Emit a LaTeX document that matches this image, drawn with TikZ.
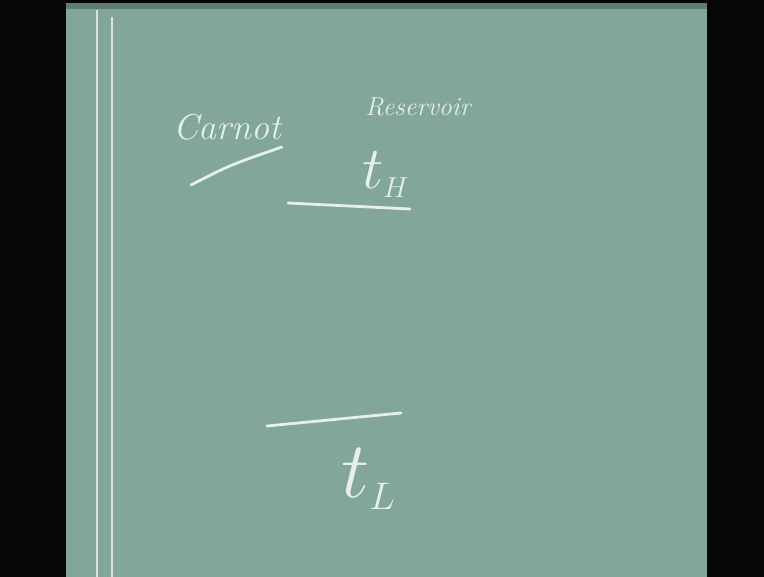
\documentclass[tikz,border=0pt]{standalone}
\usepackage{fontspec}
\definecolor{board}{RGB}{130,166,151}
\definecolor{chalk}{RGB}{230,240,234}
\definecolor{frame}{RGB}{6,6,8}
\tikzset{
  chalkline/.style={draw=chalk, line width=2.8pt, line cap=round},
  edgeline/.style={draw=chalk!85!board, line width=2pt},
  chalktext/.style={text=chalk, inner sep=0pt, font=\itshape}
}
\begin{document}
\begin{tikzpicture}[x=1pt,y=-1pt]
\useasboundingbox (0,0) rectangle (764,577);
\fill[frame] (0,0) rectangle (764,577);
\fill[board] (66,3) rectangle (707,577);
\fill[board!75!black] (66,3) rectangle (707,9);
% vertical border lines
\coordinate (v1t) at (97,10);
\coordinate (v1b) at (97,577);
\coordinate (v2t) at (112,17);
\coordinate (v2b) at (112,577);
\draw[edgeline] (v1t) -- (v1b);
\draw[edgeline] (v2t) -- (v2b);
% texts
\node[chalktext, font=\fontsize{36}{40}\selectfont\itshape] (carnot) at (227,127) {Carnot};
\node[chalktext, font=\fontsize{26}{30}\selectfont\itshape] (res) at (418,107) {Reservoir};
\node[chalktext, font=\fontsize{24}{28}\selectfont, scale=2.4] (th) at (386,175) {$t_{\scriptscriptstyle H}$};
\node[chalktext, font=\fontsize{24}{28}\selectfont, scale=3.2] (tl) at (369,479) {$t_{\scriptscriptstyle L}$};
% underline of Carnot
\coordinate (u1) at (191,185);
\coordinate (u2) at (282,147);
\draw[chalkline] (u1) .. controls (230,165) .. (u2);
% upper reservoir line
\coordinate (h1) at (288,203);
\coordinate (h2) at (410,209);
\draw[chalkline] (h1) -- (h2);
% lower reservoir line
\coordinate (l1) at (267,426);
\coordinate (l2) at (401,413);
\draw[chalkline] (l1) -- (l2);
\end{tikzpicture}
\end{document}
